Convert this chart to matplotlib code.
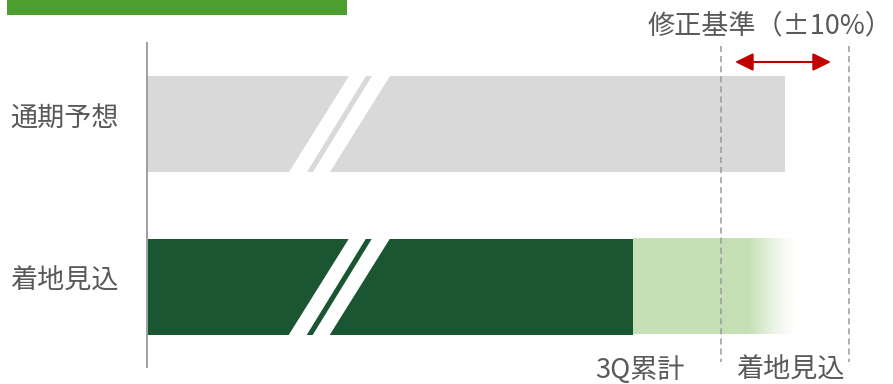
import numpy as np
import matplotlib.pyplot as plt
from matplotlib.patches import Rectangle, Polygon, FancyArrowPatch

plt.rcParams['font.family'] = ['Noto Sans CJK JP', 'DejaVu Sans']

# --- data -------------------------------------------------------------
categories = ['通期予想', '着地見込']
full_year_forecast = 100.0      # 通期予想
q3_cumulative = 76.2            # 3Q累計
landing_estimate = 101.6        # 着地見込 (end of faded segment)
fade_start = 94.3               # where the landing segment starts fading
revision_band = [90.0, 110.0]   # 修正基準 ±10%
segment_labels = ['3Q累計', '着地見込']
band_label = '修正基準（±10%）'

# --- colours ----------------------------------------------------------
GRAY_BAR = '#d9d9d9'
DARK_GREEN = '#1b5632'
LIGHT_GREEN = '#c5e0b4'
BANNER = '#4e9e2f'
TEXT = '#595959'
RED = '#c00000'

# --- canvas: one axes filling the figure, scaled in pixels -------------
W, H = 893, 384
X0 = 147          # pixel column of the value axis (value 0)
K = 6.38          # pixels per value unit
Y0 = 124          # pixel row of the first category
ROW = 162.5       # pixels between category rows

def X(px):
    return (px - X0) / K

def Y(px):
    return (px - Y0) / ROW

fig = plt.figure(figsize=(W / 100, H / 100), dpi=100)
ax = fig.add_axes([0, 0, 1, 1])
ax.axis('off')

bh = 96 / ROW  # bar thickness in row units
pos = np.arange(len(categories))

# bars
ax.barh(pos[0], full_year_forecast, height=bh, color=GRAY_BAR, zorder=2)
ax.barh(pos[1], q3_cumulative, height=bh, color=DARK_GREEN, zorder=2)

# remainder of the landing estimate: solid, then fading out
rgb = np.array([0xc5, 0xe0, 0xb4]) / 255
n = 400
xs = np.linspace(q3_cumulative, landing_estimate, n)
t = np.clip((xs - fade_start) / (landing_estimate - fade_start), 0, 1)
grad = np.zeros((1, n, 4))
grad[..., :3] = rgb
grad[..., 3] = (1 - t) ** 1.3
ax.imshow(grad, extent=[q3_cumulative, landing_estimate, pos[1] + bh / 2, pos[1] - bh / 2],
          aspect='auto', interpolation='bilinear', zorder=2)
ax.set_xlim(X(0), X(W))
ax.set_ylim(Y(H), Y(0))

# axis-break stripes on both bars
stripes = [((288, 306), (350, 367)), ((312, 329), (373, 391))]
for p in pos:
    lo, hi = p + bh / 2 + 0.01, p - bh / 2 - 0.01
    for (b0, b1), (t0, t1) in stripes:
        ax.add_patch(Polygon([(X(b0), lo), (X(b1), lo), (X(t1), hi), (X(t0), hi)],
                             closed=True, facecolor='white', edgecolor='none', zorder=3))

# value axis line
ax.plot([0, 0], [Y(42), Y(368)], color='#a0a0a0', lw=1.4, zorder=4, solid_capstyle='butt')

# revision band dashed lines
for v in revision_band:
    ax.plot([v, v], [Y(46), Y(362)], color='#9a9a9a', lw=1.1, dashes=(4, 2.6), zorder=4)

# double-headed arrow between the band lines
arrow = FancyArrowPatch((X(735), Y(62)), (X(831), Y(62)),
                        arrowstyle='<|-|>,head_length=11,head_width=5.4',
                        mutation_scale=1, color=RED, lw=1.5,
                        shrinkA=0, shrinkB=0, zorder=5)
ax.add_patch(arrow)

# texts
FS = 19.5
for p, name in zip(pos, categories):
    ax.text(X(10), p - 0.03, name, ha='left', va='center', fontsize=FS, color=TEXT)

ax.text(X(892.5), Y(26), band_label, ha='right', va='center', fontsize=FS, color=TEXT)
ax.text(X(640), Y(370), segment_labels[0], ha='center', va='center', fontsize=FS, color=TEXT)
ax.text(X(790), Y(370), segment_labels[1], ha='center', va='center', fontsize=FS, color=TEXT)

# header banner
fig.patches.append(Rectangle((7 / W, 1 - 15 / H), 340 / W, 15 / H,
                             transform=fig.transFigure, facecolor=BANNER,
                             edgecolor='none', zorder=1))

fig.savefig('out.png', dpi=100)
